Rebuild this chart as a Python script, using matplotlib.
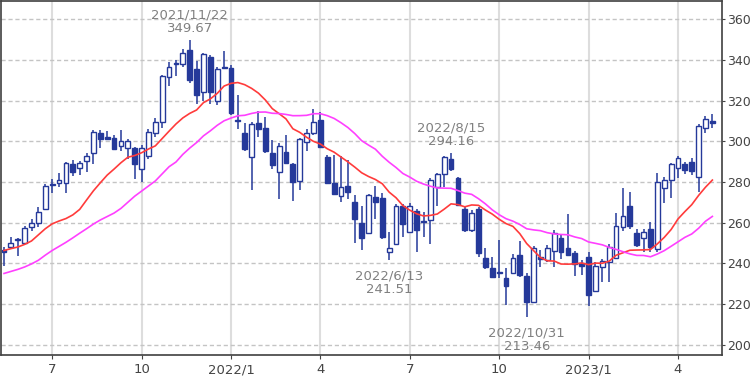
import matplotlib
matplotlib.use("Agg")
import matplotlib.pyplot as plt
import numpy as np
import pandas as pd

# weekly candles, one per Monday
weeks = pd.date_range("2021-05-17", periods=104, freq="W-MON")

opens = [246.5, 248, 251.5, 250, 258, 260, 266.5, 278.5, 279.5, 279.5, 289, 287, 290.5,
         294, 304, 302, 301.5, 297.7, 296.5, 296.5, 286.5, 292.8, 304, 309.5, 331.5, 338,
         338, 345, 335.5, 324, 341.3, 320, 336.5, 336, 310.5, 304, 292.5, 309, 306.5,
         294, 285, 294.5, 289, 280.5, 299.5, 304.3, 310.5, 292.5, 279.5, 273, 278, 270.3,
         260, 255, 272.8, 272.3, 245.5, 249.7, 268.2, 255.5, 265.6, 261, 261.3, 277.4,
         284, 291.2, 281.8, 266.5, 256.4, 266.6, 242.5, 237.6, 235.5, 233, 235.4, 244,
         233.8, 221.1, 243, 241.5, 246.2, 252.3, 247.4, 245, 240, 243, 226.5, 238, 240.8,
         242.5, 257.7, 268, 254.8, 252.3, 256.7, 247, 277, 281, 286.7, 289, 290, 282.3,
         306.4, 310.2]
highs = [248, 252.8, 252.5, 258.5, 262, 267.5, 279, 281.5, 284.5, 290, 291, 290.5, 294,
         305.5, 305.5, 305, 303, 305.5, 301, 297, 298, 306, 311.5, 332.5, 339, 340,
         345.5, 349.67, 339.5, 343.5, 342.5, 336.5, 344.5, 337.5, 323, 309, 309.5, 315, 312,
         300.5, 299, 303, 289.5, 301.5, 306, 316, 314.5, 293.5, 293.3, 293, 291, 273.6,
         268, 274, 278, 274.5, 255.5, 269, 269, 269.5, 266.5, 265, 282, 284.5,
         293, 294.16, 282.5, 267.5, 266, 267.5, 247.5, 243.3, 251.3, 237.6, 244.5, 251,
         235.4, 248.5, 246.5, 249, 256.4, 254, 264.3, 246, 241.6, 245.7, 240.5, 242, 249.7,
         264.6, 277, 275.2, 256.7, 256.7, 260.5, 284.3, 282.6, 289.5, 293, 290, 291.7, 308.5,
         312.5, 313.4]
lows = [238.5, 247.5, 243.5, 249.5, 256, 258, 266, 274.5, 277.5, 274.5, 283, 283.5, 285,
        289, 296.5, 300.5, 295.5, 295, 291.5, 281.5, 280, 291.5, 302, 306.5, 327, 332,
        336.5, 328.5, 318.5, 320, 318.5, 318, 335.5, 313, 306, 295, 276, 302, 294,
        286.5, 271.5, 289, 270.5, 276, 295, 303, 296.5, 279, 273.5, 270, 271.5, 250,
        246.5, 254.5, 262, 252, 241.51, 249, 253, 255, 245.7, 253, 249.5, 268,
        277.7, 285.6, 268, 255.5, 255.5, 243, 237, 232.6, 232.6, 219.5, 234.5, 233.4,
        213.46, 220.5, 238, 240.5, 238, 242, 243.5, 233.8, 234.3, 219, 226, 231, 231,
        242, 256, 257, 248, 245.7, 245.7, 245.5, 269.5, 272, 282, 284, 283.4, 275.2,
        304, 306.5]
closes = [245.5, 249.8, 252, 257.5, 259.7, 265, 278, 279, 281, 289.5, 285, 289.5, 293,
          304.5, 301, 301.2, 296, 300.3, 300, 289, 296.8, 304.7, 309.7, 332, 336.7, 338.7,
          343.3, 330, 323, 343, 324, 335.4, 336, 314, 309.8, 296, 308.5, 306, 295,
          288.5, 297.5, 289.5, 280, 301, 304, 309.7, 297, 279.7, 274, 277.4, 275.2, 261.6,
          252.3, 273.6, 270.3, 252.8, 247.5, 268, 259.3, 268, 256.4, 260.3, 281, 284,
          292.5, 286.3, 268.7, 256.4, 264.6, 245, 238, 233.2, 235, 228.8, 242.5, 234.3,
          221, 247.4, 242.3, 247.5, 254.7, 245.7, 244.1, 239.7, 238.8, 224.5, 238.8, 241.3, 248.2,
          258.4, 263.3, 258.4, 249, 255.5, 248.2, 280.2, 281, 289, 292, 286, 285.6, 307.5,
          310.8, 309]

ma13_head = [246.3, 247.2, 248, 249.3, 251, 254, 257, 259.4, 260.8, 262, 263.8, 266.5]
ma26_head = [235, 236, 237, 238.2, 239.7, 241.5, 244, 246.3, 248.3, 250.3, 252.5, 254.8,
             257, 259.3, 261.3, 263, 264.7, 267, 270, 273, 275.5, 278, 280.5, 284, 287.5]

peak_dates = ["2021-11-22", "2022-08-15"]
trough_dates = ["2022-06-13", "2022-10-31"]

blue = "#25399a"
n = len(closes)
x = np.arange(n)
o = np.array(opens)
c = np.array(closes)
up = c >= o

ma13 = pd.Series(closes).rolling(13).mean().to_numpy()
ma13[:12] = ma13_head
ma26 = pd.Series(closes).rolling(26).mean().to_numpy()
ma26[:25] = ma26_head

fig = plt.figure(figsize=(7.5, 3.79), dpi=100)
ax = fig.add_axes([1 / 750, 24 / 379, 721 / 750, 354 / 379])

ax.vlines(x, lows, highs, color=blue, lw=1.1, zorder=2)
ax.bar(x, np.maximum(np.abs(c - o), 0.4), bottom=np.minimum(o, c), width=0.7,
       color=np.where(up, "white", blue), edgecolor=blue, linewidth=1, zorder=3)

ax.plot(x, ma13, color="#ff3b3b", lw=1.2, zorder=4)
ax.plot(x, ma26, color="#ff40ff", lw=1.2, zorder=4)

for d in peak_dates:
    i = weeks.get_loc(pd.Timestamp(d))
    ax.annotate(f"{weeks[i].year}/{weeks[i].month}/{weeks[i].day}\n{highs[i]:.2f}",
                xy=(i, highs[i]), xytext=(0, 4), textcoords="offset points",
                ha="center", va="bottom", fontsize=9.5, color="#808080", linespacing=1.05)
for d in trough_dates:
    i = weeks.get_loc(pd.Timestamp(d))
    ax.annotate(f"{weeks[i].year}/{weeks[i].month}/{weeks[i].day}\n{lows[i]:.2f}",
                xy=(i, lows[i]), xytext=(0, -7), textcoords="offset points",
                ha="center", va="top", fontsize=9.5, color="#808080", linespacing=1.05)

# ticks on the first week of each quarter
tick_idx = [i for i, d in enumerate(weeks) if d.month in (1, 4, 7, 10) and d.day <= 7]
tick_lab = [f"{weeks[i].year}/1" if weeks[i].month == 1 else str(weeks[i].month) for i in tick_idx]
ax.set_xticks(tick_idx)
ax.set_xticklabels(tick_lab)
ax.set_yticks(range(200, 361, 20))

ax.set_xlim(-0.44, 104.4)
ax.set_ylim(194.9, 369)

ax.yaxis.tick_right()
ax.tick_params(axis="y", length=2, pad=1.5, labelsize=9, labelcolor="#444444", color="#444444")
ax.tick_params(axis="x", length=3, pad=3, labelsize=9.5, labelcolor="#444444", color="#444444")

ax.set_axisbelow(True)
ax.yaxis.grid(True, linestyle=(0, (3, 2)), color="#c4c4c4", lw=1)
ax.xaxis.grid(True, linestyle="-", color="#dddddd", lw=1.5)
for s in ax.spines.values():
    s.set_color("#404040")
    s.set_linewidth(1.2)

fig.savefig("out.png", dpi=100)
